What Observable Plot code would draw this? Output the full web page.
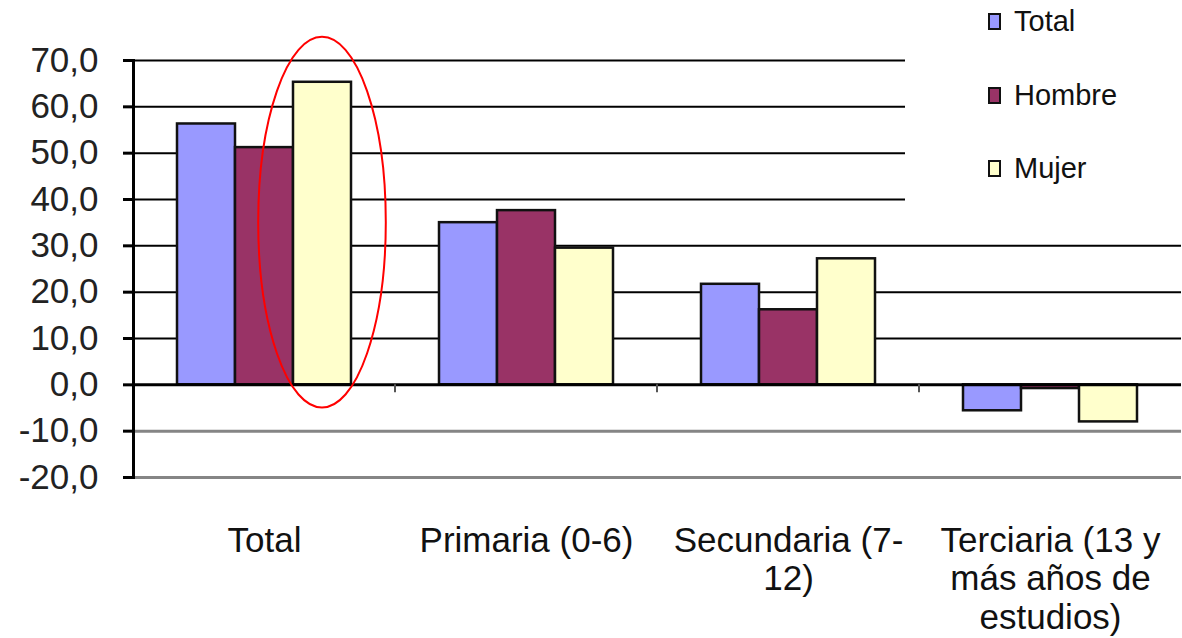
<!DOCTYPE html>
<html><head><meta charset="utf-8">
<script src="https://cdn.jsdelivr.net/npm/d3@7"></script>
<script src="https://cdn.jsdelivr.net/npm/@observablehq/plot@0.6"></script>
<style>
body{margin:0;background:#fff;font-family:"Liberation Sans",Arial,sans-serif;}
#wrap{position:relative;width:1182px;height:638px;overflow:hidden;background:#fff}
#legend{position:absolute;left:905px;top:0;width:277px;height:214px;background:#fff}
.item{position:absolute;left:83px;height:30px;display:flex;align-items:center;font-size:29px;color:#111;line-height:30px}
.sw{width:13px;height:17px;border:2.5px solid #111;box-sizing:border-box;margin-right:13px}
</style></head><body>
<div id="wrap"><div id="chart"></div><div id="legend"></div></div>
<script>
const categories = ["Total", "Primaria (0-6)", "Secundaria (7-12)", "Terciaria (13 y más años de estudios)"];
const categoryLabels = ["Total", "Primaria (0-6)", "Secundaria (7-\n12)", "Terciaria (13 y\nmás años de\nestudios)"];
const series = ["Total", "Hombre", "Mujer"];
const totalValues = [56.3, 35.0, 21.7, -5.6];
const hombreValues = [51.2, 37.6, 16.2, -0.8];
const mujerValues = [65.3, 29.5, 27.2, -8.0];
const seriesColors = ["#9999ff", "#993366", "#ffffcc"];
const yTicks = [-20, -10, 0, 10, 20, 30, 40, 50, 60, 70];
const ellipseCategory = "Total";
const ellipseSeries = "Mujer";
const ellipseYRange = [-5, 75];

const valuesBySeries = [totalValues, hombreValues, mujerValues];
const rows = [];
categories.forEach((c, i) => series.forEach((s, j) => rows.push({category: c, series: s, value: valuesBySeries[j][i]})));
const labelOf = new Map(categories.map((c, i) => [c, categoryLabels[i]]));
const fmt = d => d.toFixed(1).replace(".", ",");

const marginLeft = 131;
const chart = Plot.plot({
  width: 1182,
  height: 638,
  marginLeft,
  marginRight: 0,
  marginTop: 60,
  marginBottom: 161,
  style: {fontFamily: "'Liberation Sans', Arial, sans-serif", background: "#fff"},
  fx: {domain: categories, padding: 0},
  x: {domain: series, paddingInner: 0, paddingOuter: 0.75, axis: null},
  y: {domain: [-20, 70]},
  color: {domain: series, range: seriesColors},
  marks: [
    Plot.ruleY(yTicks.filter(d => d > 0), {stroke: "#000", strokeWidth: 2}),
    Plot.ruleY(yTicks.filter(d => d < 0), {stroke: "#858585", strokeWidth: 3}),
    Plot.barY(rows, {fx: "category", x: "series", y: "value", fill: "series", stroke: "#111", strokeWidth: 2.5}),
    Plot.ruleY([0], {stroke: "#000", strokeWidth: 3}),
    Plot.frame({anchor: "left", facetAnchor: "left", stroke: "#000", strokeWidth: 3}),
    Plot.axisY({ticks: yTicks, tickFormat: fmt, tickSize: 10, tickPadding: 25, fontSize: 35, stroke: "#000", strokeWidth: 3, color: "#222", label: null}),
    Plot.axisFx({anchor: "bottom", tickSize: 0, tickPadding: 47, fontSize: 35, lineHeight: 1.1, tickFormat: d => labelOf.get(d), color: "#111", label: null})
  ]
});
document.getElementById("chart").appendChild(chart);

// annotation ellipse and category ticks, positioned through the chart's scales
const fxS = chart.scale("fx"), xS = chart.scale("x"), yS = chart.scale("y");
const svg = d3.select(chart);
const cx = fxS.apply(ellipseCategory) - marginLeft + xS.apply(ellipseSeries) + xS.bandwidth / 2;
const yTop = yS.apply(ellipseYRange[1]), yBot = yS.apply(ellipseYRange[0]);
svg.append("ellipse")
  .attr("cx", cx).attr("cy", (yTop + yBot) / 2)
  .attr("rx", xS.bandwidth * 1.1).attr("ry", (yBot - yTop) / 2)
  .attr("fill", "none").attr("stroke", "#ff0000").attr("stroke-width", 2);
const y0 = yS.apply(0);
categories.slice(1).forEach(c => {
  const xx = fxS.apply(c);
  svg.append("line").attr("x1", xx).attr("x2", xx).attr("y1", y0).attr("y2", y0 + 8)
    .attr("stroke", "#555").attr("stroke-width", 2);
});

// legend
const legend = document.getElementById("legend");
const legendTops = [6, 80, 153];
series.forEach((s, i) => {
  const it = document.createElement("div");
  it.className = "item";
  it.style.top = legendTops[i] + "px";
  it.innerHTML = `<span class="sw" style="background:${seriesColors[i]}"></span><span>${s}</span>`;
  legend.appendChild(it);
});
</script>
</body></html>
